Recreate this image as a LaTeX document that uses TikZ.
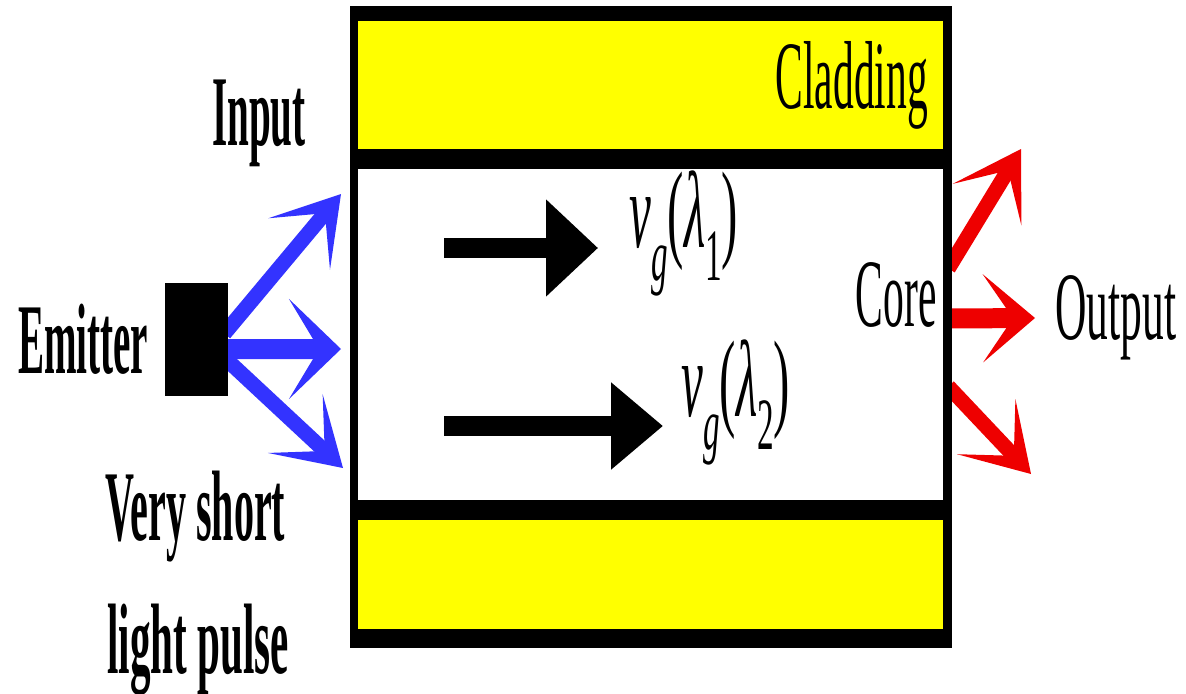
\documentclass[tikz,border=0pt]{standalone}
\usepackage{fontspec}
\setmainfont{Liberation Serif}
\usepackage{graphicx}
\usetikzlibrary{arrows.meta,positioning,calc,backgrounds}
\definecolor{cladyellow}{HTML}{FFFF00}
\definecolor{pulseblue}{HTML}{3333FF}
\definecolor{outred}{HTML}{EE0000}
\newcommand{\slim}[2][0.43]{\scalebox{#1}[1]{#2}}
\newcommand{\grpvel}[1]{\scalebox{0.45}[1]{\fontsize{62}{62}\selectfont\textit{v}\raisebox{-0.31em}{\fontsize{42}{42}\selectfont\textit{g}}(\textit{λ}\raisebox{-0.31em}{\fontsize{42}{42}\selectfont #1})}}

\begin{document}
\begin{tikzpicture}[x=0.02cm,y=-0.02cm,
 layer/.style={inner sep=0pt,draw=none,fill=cladyellow,minimum width=11.7cm},
 lbl/.style={inner sep=0pt,font=\fontsize{55}{60}\selectfont},
 boldlbl/.style={inner sep=0pt,font=\fontsize{57}{62}\selectfont\bfseries},
 ray/.style={line width=0.3cm,-{Stealth[length=1.3cm,width=1.6cm,inset=0.8cm]}},
 flatray/.style={line width=0.4cm,-{Stealth[length=1.04cm,width=#1,inset=0.6cm]}},
 flatray/.default=2cm,
 speed/.style={line width=0.4cm,-{Triangle[length=1.04cm,width=#1]}},
 speed/.default=1.88cm]
\useasboundingbox (0,0) rectangle (1186,693);
% fibre: black jacket, cladding and core
\fill (350,6) rectangle (952,648);
\node[layer,minimum height=2.56cm] (cladtop) at (650.5,85) {};
\node[layer,fill=white,minimum height=6.62cm] (core) at (650.5,334.5) {};
\node[layer,minimum height=2.18cm] (cladbot) at (650.5,574.5) {};
\node[lbl,left=0.3cm of cladtop.east] (cladtxt) {\slim{Cladding}};
\node[lbl,anchor=base east] (coretxt) at (937,326) {\slim{Core}};
% source side
\node[fill=black,inner sep=0pt,minimum width=1.26cm,minimum height=2.26cm] (emitter) at (196.5,339.5) {};
\node[boldlbl,left=0.32cm of emitter] (emtxt) {\slim[0.39]{Emitter}};
\node[boldlbl,anchor=base west] (intxt) at (212,145) {\slim[0.39]{Input}};
\node[boldlbl,anchor=base west] (pulse1) at (105,540) {\slim[0.40]{Very short}};
\node[boldlbl,anchor=base west] (pulse2) at (107,673) {\slim[0.41]{light pulse}};
\coordinate (intop) at (341,194);
\coordinate (inmid) at (341,349);
\coordinate (inbot) at (343,468);
% exit side
\coordinate (outtop) at (1021,149);
\coordinate (outmid) at (1035,318);
\coordinate (outbot) at (1031,474);
\begin{scope}[on background layer]
\draw[ray,pulseblue] ($(emitter.east)+(-4,-6)$) -- (intop);
\draw[flatray,pulseblue] ($(emitter.east)+(-8,9.5)$) -- (inmid);
\draw[ray,pulseblue] ($(emitter.east)+(-4,18)$) -- (inbot);
\draw[ray,outred] ($(core.east)+(5,-66)$) -- (outtop);
\draw[flatray=1.76cm,outred] ($(core.east)+(5,-16)$) -- (outmid);
\draw[ray,outred] ($(core.east)+(5,52)$) -- (outbot);
\end{scope}
\node[lbl,right=0.4cm of outmid] (outtxt) {\slim[0.45]{Output}};
% group velocities
\coordinate (fast0) at (444,248);
\coordinate (fast1) at (598,248);
\coordinate (slow0) at (444,426);
\coordinate (slow1) at (663,426);
\draw[speed] (fast0) -- (fast1);
\draw[speed=1.68cm] (slow0) -- (slow1);
\node[inner sep=0pt,anchor=base west] (vgone) at (629,247) {\grpvel{1}};
\node[inner sep=0pt,anchor=base west] (vgtwo) at (681,416) {\grpvel{2}};
\end{tikzpicture}
\end{document}
